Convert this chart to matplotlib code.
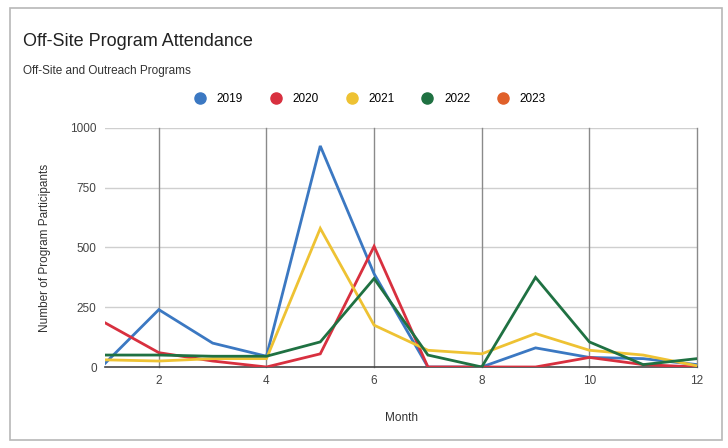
import matplotlib
matplotlib.use("Agg")
import matplotlib.pyplot as plt
from matplotlib.patches import Rectangle
from matplotlib.lines import Line2D

plt.rcParams['font.family'] = ['Liberation Sans', 'DejaVu Sans']

months = list(range(1, 13))
series_names = ["2019", "2020", "2021", "2022", "2023"]
attendance_2019 = [15, 240, 100, 45, 925, 390, 0, 0, 80, 40, 35, 10]
attendance_2020 = [185, 60, 25, 0, 55, 505, 0, 0, 0, 40, 10, 0]
attendance_2021 = [30, 25, 35, 35, 580, 175, 70, 55, 140, 70, 50, 5]
attendance_2022 = [50, 50, 45, 45, 105, 370, 50, 0, 375, 105, 10, 35]
attendance_2023 = []
x_ticks = [2, 4, 6, 8, 10, 12]
y_ticks = [0, 250, 500, 750, 1000]

colors = ["#3b78c2", "#d8303f", "#eec233", "#1f7142", "#e0602a"]
all_series = [attendance_2019, attendance_2020, attendance_2021,
              attendance_2022, attendance_2023]

fig = plt.figure(figsize=(7.28, 4.48), dpi=100)
W, H = 728, 448

# outer frame
fig.patches.append(Rectangle((10 / W, 8 / H), 712 / W, 432 / H,
                             transform=fig.transFigure, fill=False,
                             edgecolor="#b8b8b8", linewidth=1.2))

ax = fig.add_axes([105 / W, (H - 367) / H, 592 / W, 239 / H])

for vals, c in zip(all_series, colors):
    if len(vals):
        ax.plot(months[:len(vals)], vals, color=c, linewidth=2.0,
                solid_joinstyle="miter", zorder=3)

ax.set_xlim(1, 12)
ax.set_ylim(0, 1000)
ax.set_xticks(x_ticks)
ax.set_yticks(y_ticks)
ax.tick_params(axis="both", length=0, labelsize=8.5, colors="#444444", pad=6)
for s in ["top", "right", "left"]:
    ax.spines[s].set_visible(False)
ax.spines["bottom"].set_color("#444444")
ax.spines["bottom"].set_linewidth(1.2)
ax.spines["bottom"].set_zorder(2)

for yv in y_ticks[1:]:
    ax.axhline(yv, color="#cfcfcf", linewidth=1.0, zorder=1)
for xv in x_ticks:
    ax.axvline(xv, color="#8a8a8a", linewidth=1.0, zorder=1, clip_on=False)

ax.set_ylabel("Number of Program Participants", fontsize=8.5, color="#333333",
              labelpad=14)
ax.set_xlabel("Month", fontsize=8.5, color="#333333", labelpad=18)

fig.text(23 / W, 1 - 42 / H, "Off-Site Program Attendance", fontsize=13,
         color="#222222", va="center", ha="left")
fig.text(23 / W, 1 - 71 / H, "Off-Site and Outreach Programs", fontsize=8.5,
         color="#333333", va="center", ha="left")

handles = [Line2D([], [], marker="o", linestyle="none", markersize=8,
                  markerfacecolor=c, markeredgecolor=c) for c in colors]
fig.legend(handles, series_names, loc="center", ncol=5,
           bbox_to_anchor=(367 / W, 1 - 99 / H), frameon=False, fontsize=8.5,
           handletextpad=0.4, columnspacing=1.8)

fig.savefig("out.png", dpi=100)
